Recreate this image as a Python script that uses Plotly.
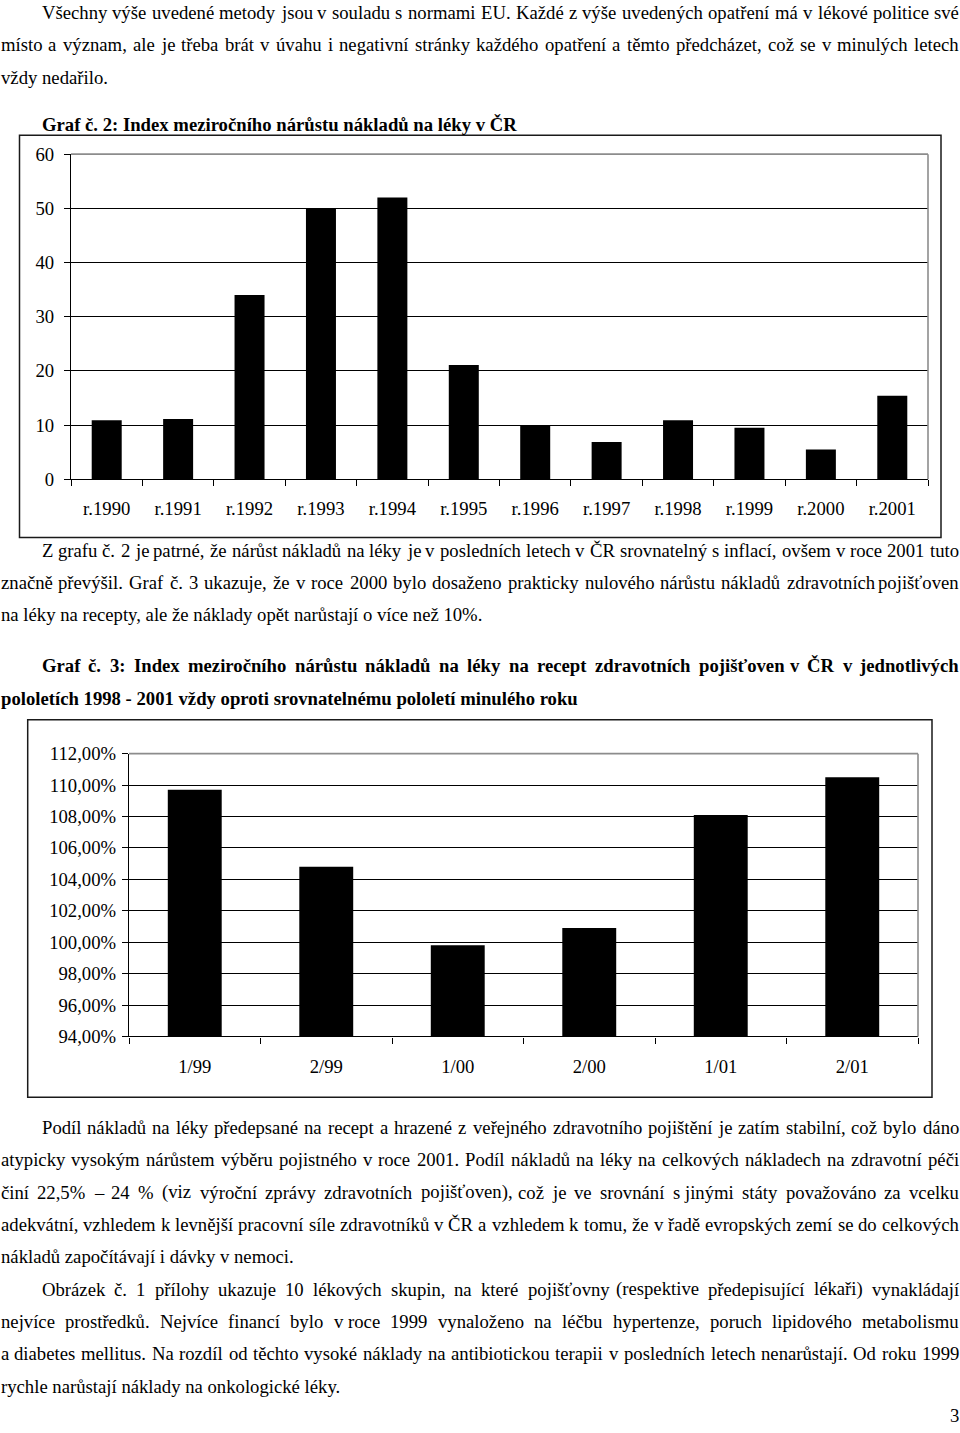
import unicodedata
import plotly.graph_objects as go

W, H = 960, 1433
FONT = "Liberation Serif, Times New Roman, Times, serif"
FS = 18.7

# ---------------- chart data ----------------
years = ["r.1990", "r.1991", "r.1992", "r.1993", "r.1994", "r.1995",
         "r.1996", "r.1997", "r.1998", "r.1999", "r.2000", "r.2001"]
growth = [10.9, 11.1, 34.0, 50.0, 52.0, 21.1, 10.0, 6.9, 10.9, 9.5, 5.5, 15.4]
y1_ticks = [0, 10, 20, 30, 40, 50, 60]

halves = ["1/99", "2/99", "1/00", "2/00", "1/01", "2/01"]
rx_index = [109.7, 104.8, 99.8, 100.9, 108.1, 110.5]
y2_ticks = [94, 96, 98, 100, 102, 104, 106, 108, 110, 112]
y2_labels = ["94,00%", "96,00%", "98,00%", "100,00%", "102,00%", "104,00%",
             "106,00%", "108,00%", "110,00%", "112,00%"]

title1 = "Graf č. 2: Index meziročního nárůstu nákladů na léky v ČR"

# ---------------- page text ----------------
NB = "\u00a0"
lines = [
    ("Všechny výše uvedené metody jsou v souladu s normami EU. Každé z výše uvedených opatření má v lékové politice své", 12, "ij", False),
    ("místo a význam, ale je třeba brát v úvahu i negativní stránky každého opatření a těmto předcházet, což se v minulých letech", 44.5, "j", False),
    ("vždy nedařilo.", 77, "l", False),
    ("Z grafu č. 2 je patrné, že nárůst nákladů na léky je v posledních letech v ČR srovnatelný s inflací, ovšem v roce 2001 tuto", 550, "ij", False),
    ("značně převýšil. Graf č. 3 ukazuje, že v roce 2000 bylo dosaženo prakticky nulového nárůstu nákladů zdravotních pojišťoven", 582, "j", False),
    ("na léky na recepty, ale že náklady opět narůstají o více než 10%.", 614, "l", False),
    ("Graf č. 3: Index meziročního nárůstu nákladů na léky na recept zdravotních pojišťoven v ČR v jednotlivých", 665, "ij", True),
    ("pololetích 1998 - 2001 vždy oproti srovnatelnému pololetí minulého roku", 698, "l", True),
    ("Podíl nákladů na léky předepsané na recept a hrazené z veřejného zdravotního pojištění je zatím stabilní, což bylo dáno", 1127, "ij", False),
    ("atypicky vysokým nárůstem výběru pojistného v roce 2001. Podíl nákladů na léky na celkových nákladech na zdravotní péči", 1159, "j", False),
    ("činí 22,5% – 24 % (viz výroční zprávy zdravotních pojišťoven), což je ve srovnání s" + NB + "jinými státy považováno za vcelku", 1191.5, "j", False),
    ("adekvátní, vzhledem k levnější pracovní síle zdravotníků v ČR a vzhledem k tomu, že v řadě evropských zemí se do celkových", 1224, "j", False),
    ("nákladů započítávají i dávky v nemoci.", 1256, "l", False),
    ("Obrázek č. 1 přílohy ukazuje 10 lékových skupin, na které pojišťovny (respektive předepisující lékaři) vynakládají", 1288.5, "ij", False),
    ("nejvíce prostředků. Nejvíce financí bylo v" + NB + "roce 1999 vynaloženo na léčbu hypertenze, poruch lipidového metabolismu", 1320.5, "j", False),
    ("a diabetes mellitus. Na rozdíl od těchto vysoké náklady na antibiotickou terapii v posledních letech nenarůstají. Od roku 1999", 1353, "j", False),
    ("rychle narůstají náklady na onkologické léky.", 1385.5, "l", False),
]
page_number = "3"

REG = {' ': 250, NB: 250, 'a': 444, 'b': 500, 'c': 444, 'd': 500, 'e': 444, 'f': 333, 'g': 500,
       'h': 500, 'i': 278, 'j': 278, 'k': 500, 'l': 278, 'm': 778, 'n': 500, 'o': 500, 'p': 500,
       'q': 500, 'r': 333, 's': 389, 't': 278, 'u': 500, 'v': 500, 'w': 722, 'x': 500, 'y': 500,
       'z': 444, 'A': 722, 'B': 667, 'C': 667, 'D': 722, 'E': 611, 'F': 556, 'G': 722, 'H': 722,
       'I': 333, 'J': 389, 'K': 722, 'L': 611, 'M': 889, 'N': 722, 'O': 722, 'P': 556, 'Q': 722,
       'R': 667, 'S': 556, 'T': 611, 'U': 722, 'V': 722, 'W': 944, 'X': 722, 'Y': 722, 'Z': 611,
       '.': 250, ',': 250, ':': 278, ';': 278, '-': 333, '–': 500, '%': 833, '(': 333, ')': 333,
       '/': 278}
BLD = {' ': 250, NB: 250, 'a': 500, 'b': 556, 'c': 444, 'd': 556, 'e': 444, 'f': 333, 'g': 500,
       'h': 556, 'i': 278, 'j': 333, 'k': 556, 'l': 278, 'm': 833, 'n': 556, 'o': 500, 'p': 556,
       'q': 556, 'r': 444, 's': 389, 't': 333, 'u': 556, 'v': 500, 'w': 722, 'x': 500, 'y': 500,
       'z': 444, 'A': 722, 'B': 667, 'C': 722, 'D': 722, 'E': 667, 'F': 611, 'G': 778, 'H': 778,
       'I': 389, 'J': 500, 'K': 778, 'L': 667, 'M': 944, 'N': 722, 'O': 778, 'P': 611, 'Q': 778,
       'R': 722, 'S': 556, 'T': 667, 'U': 722, 'V': 722, 'W': 1000, 'X': 722, 'Y': 722, 'Z': 667,
       '.': 250, ',': 250, ':': 333, ';': 333, '-': 333, '–': 500, '%': 1000, '(': 333, ')': 333,
       '/': 278}
for d in "0123456789":
    REG[d] = 500
    BLD[d] = 500


def text_width(s, bold):
    tbl = BLD if bold else REG
    tot = 0
    for ch in s:
        if ch in tbl:
            tot += tbl[ch]
        else:
            tot += tbl.get(unicodedata.normalize("NFD", ch)[0], 500)
    return tot / 1000.0 * FS


# the page is photographed with a small top offset / vertical squeeze; map page-y to figure-y
Y_OFF, Y_SCALE = 9.9, 0.985


def Y(r):
    return (r - Y_OFF) / Y_SCALE


def py_paper(r):
    return 1 - Y(r) / H


LEFT, RIGHT, INDENT = 0.5, 959.0, 41.0


def ann(text, px, py, bold=False, anchor="left"):
    return dict(x=px / W, y=py_paper(py), xref="paper", yref="paper", text=text,
                showarrow=False, xanchor=anchor, yanchor="middle", borderpad=0, borderwidth=0,
                font=dict(family=FONT, size=FS, color="black",
                          weight="bold" if bold else "normal"))


annotations = []
for text, py, mode, bold in lines:
    x0 = LEFT + (INDENT if mode.startswith("i") else 0)
    if mode.endswith("l"):
        annotations.append(ann(text, x0, py, bold))
        continue
    words = text.split(" ")
    widths = [text_width(w, bold) for w in words]
    gap = (RIGHT - x0 - sum(widths)) / (len(words) - 1)
    x = x0
    for i, (w, ww) in enumerate(zip(words, widths)):
        if i == len(words) - 1:
            annotations.append(ann(w, RIGHT, py, bold, "right"))
        else:
            annotations.append(ann(w, x, py, bold))
        x += ww + gap

annotations.append(ann(title1, 41.7, 124.5, True))
annotations.append(dict(x=958.5 / W, y=0, xref="paper", yref="paper", text=page_number,
                        showarrow=False, xanchor="right", yanchor="bottom", yshift=-4,
                        borderpad=0, borderwidth=0,
                        font=dict(family=FONT, size=FS, color="black")))

# ---------------- figure ----------------
fig = go.Figure()
fig.add_trace(go.Bar(x=years, y=growth, xaxis="x", yaxis="y", width=0.42,
                     marker=dict(color="black", line=dict(width=0)), hoverinfo="x+y"))
fig.add_trace(go.Bar(x=halves, y=rx_index, xaxis="x2", yaxis="y2", width=0.41,
                     marker=dict(color="black", line=dict(width=0)), hoverinfo="x+y"))

tickfont = dict(family=FONT, size=FS, color="black")
common_x = dict(type="category", showline=True, linecolor="black", linewidth=1.3,
                ticks="outside", tickson="boundaries", ticklen=6, tickwidth=1.3,
                tickcolor="black", showgrid=False, zeroline=False, tickfont=tickfont,
                fixedrange=True)
common_y = dict(showline=True, linecolor="black", linewidth=1.3, ticks="outside",
                ticklen=6, tickwidth=1.3, tickcolor="black", showgrid=True,
                gridcolor="black", gridwidth=1.3, zeroline=False, tickfont=tickfont,
                fixedrange=True)

fig.update_layout(
    width=W, height=H, margin=dict(l=0, r=0, t=0, b=0, pad=0),
    paper_bgcolor="white", plot_bgcolor="white", showlegend=False,
    font=dict(family=FONT, size=FS, color="black"),
    xaxis=dict(domain=[71 / W, 928 / W], anchor="y", range=[-0.5, 11.5],
               ticklabelstandoff=12, **common_x),
    yaxis=dict(domain=[py_paper(479), py_paper(154)], anchor="x", range=[0, 60],
               tickvals=y1_ticks, ticklabelstandoff=6, **common_y),
    xaxis2=dict(domain=[129 / W, 918 / W], anchor="y2", range=[-0.5, 5.5],
                ticklabelstandoff=13, **common_x),
    yaxis2=dict(domain=[py_paper(1036), py_paper(753.3)], anchor="x2", range=[94, 112],
                tickvals=y2_ticks, ticktext=y2_labels, ticklabelstandoff=2, **common_y),
    annotations=annotations,
)

gray = dict(color="#8c8c8c", width=1.6)
shapes = []
for xr, yr in (("x domain", "y domain"), ("x2 domain", "y2 domain")):
    shapes.append(dict(type="line", xref=xr, yref=yr, x0=0, x1=1, y0=1, y1=1, line=gray, layer="above"))
    shapes.append(dict(type="line", xref=xr, yref=yr, x0=1, x1=1, y0=0, y1=1, line=gray, layer="above"))
frames = [(19.5, 135, 941, 537.3), (27.7, 719.5, 932, 1096.7)]
for (fx0, fy0, fx1, fy1) in frames:
    shapes.append(dict(type="rect", xref="paper", yref="paper", x0=fx0 / W, x1=fx1 / W,
                       y0=py_paper(fy1), y1=py_paper(fy0), line=dict(color="#1a1a1a", width=1.5),
                       fillcolor="rgba(0,0,0,0)", layer="below"))
fig.update_layout(shapes=shapes)

fig.write_html("out.html")
